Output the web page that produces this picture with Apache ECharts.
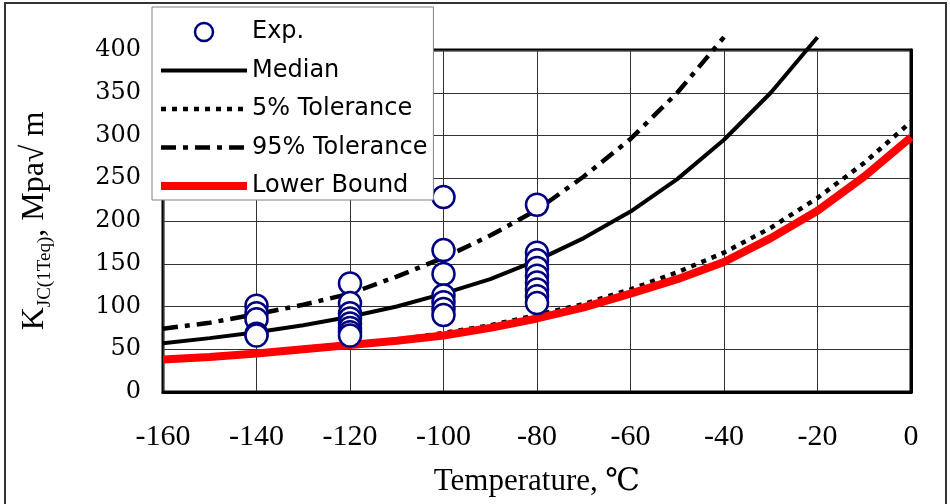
<!DOCTYPE html>
<html>
<head>
<meta charset="utf-8">
<title>KJC master curve</title>
<script src="https://cdn.jsdelivr.net/npm/echarts@6/dist/echarts.min.js"></script>
<style>
  html, body { margin: 0; padding: 0; background: #fff; }
  #chart { width: 950px; height: 504px; }
</style>
</head>
<body>
<div id="chart"></div>
<script>
// axis ticks
const xTicks = [-160, -140, -120, -100, -80, -60, -40, -20, 0];
const yTicks = [0, 50, 100, 150, 200, 250, 300, 350, 400];

// curve temperatures, every 10 degC
const curveTemps = [-160, -150, -140, -130, -120, -110, -100, -90, -80, -70, -60, -50, -40, -30, -20, -10, 0];
// (median ends at -20, 95% at -40, both run past the top)
const median = [57, 63, 70, 78, 88, 100, 115, 132, 154, 180, 211, 249, 295, 350, 415];
const tol5 = [39, 42, 46, 50, 55, 61, 69, 78, 90, 103, 120, 140, 163, 192, 227, 268, 316];
const tol95 = [74, 81, 91, 102, 115, 135, 157, 183, 213, 252, 296, 350, 415];
const lowerBound = [38, 41, 45, 50, 55, 60, 66, 75, 86, 99, 115, 132, 152, 180, 212, 252, 298];

// experimental points (drawn top to bottom so lower circles sit on top)
const expTemps = [-140, -120, -100, -80];
const expValues = [
  [101, 92, 85, 68, 66],
  [127, 104, 92, 86, 80, 75, 70, 66],
  [228, 166, 138, 113, 105, 97, 90],
  [219, 163, 154, 145, 136, 128, 120, 112, 104]
];

const serif = "'Liberation Serif', 'DejaVu Serif', 'Noto Sans CJK JP', serif";
const wideSerif = "'DejaVu Serif', 'Liberation Serif', serif";
const sans = "'DejaVu Sans', 'Liberation Sans', sans-serif";

function pairs(xs, ys) {
  return ys.map((y, i) => [xs[i], y]);
}

let expData = [];
expTemps.forEach((t, i) => {
  expValues[i].forEach(v => expData.push([t, v]));
});

const chart = echarts.init(document.getElementById("chart"), null, { renderer: "canvas" });

chart.setOption({
  animation: false,
  backgroundColor: "#fff",
  graphic: [
    {
      type: "rect",
      shape: { x: 5, y: 3, width: 941, height: 520 },
      style: { fill: null, stroke: "#333", lineWidth: 2 },
      silent: true,
      z: -1
    }
  ],
  legend: {
    orient: "vertical",
    left: 152,
    top: 7,
    padding: [13, 6, 2, 5],
    itemWidth: 86,
    itemHeight: 18,
    itemGap: 14.5,
    backgroundColor: "#fff",
    borderColor: "#808080",
    borderWidth: 1,
    borderRadius: 0,
    itemStyle: { opacity: 0 },
    lineStyle: { width: "inherit", type: "inherit" },
    textStyle: { fontFamily: sans, fontSize: 24, color: "#000" },
    data: [
      {
        name: "Exp.",
        icon: "circle",
        itemStyle: { opacity: 1, color: "#fff", borderColor: "#000080", borderWidth: 2.5 }
      },
      "Median",
      "5% Tolerance",
      "95% Tolerance",
      "Lower Bound"
    ]
  },
  grid: {
    left: 163,
    right: 39,
    top: 50,
    bottom: 112,
    show: true,
    borderColor: "#000",
    borderWidth: 3
  },
  xAxis: {
    type: "value",
    min: xTicks[0],
    max: xTicks[xTicks.length - 1],
    interval: xTicks[1] - xTicks[0],
    name: "Temperature, ℃",
    nameLocation: "middle",
    nameGap: 74,
    nameTextStyle: { fontFamily: serif, fontSize: 31, color: "#000" },
    axisLine: { lineStyle: { color: "#000", width: 3 } },
    axisTick: { show: false },
    axisLabel: { fontFamily: serif, fontSize: 30, color: "#000", margin: 30 },
    splitLine: { lineStyle: { color: "#333", width: 1 } }
  },
  yAxis: {
    type: "value",
    min: yTicks[0],
    max: yTicks[yTicks.length - 1],
    interval: yTicks[1] - yTicks[0],
    name: "{k|K}{s|JC(1Teq)}{k|, Mpa√ m}",
    nameLocation: "middle",
    nameGap: 112,
    nameRotate: 90,
    nameTextStyle: {
      color: "#000",
      rich: {
        k: { fontFamily: serif, fontSize: 32, color: "#000" },
        s: { fontFamily: serif, fontSize: 19, color: "#000", verticalAlign: "bottom", padding: [0, 0, -4, 0] }
      }
    },
    axisLine: { show: true, lineStyle: { color: "#000", width: 3 } },
    axisTick: { show: false },
    axisLabel: { fontFamily: wideSerif, fontSize: 24, color: "#000", margin: 22 },
    splitLine: { lineStyle: { color: "#333", width: 1 } }
  },
  series: [
    {
      name: "Median",
      type: "line",
      data: pairs(curveTemps, median),
      symbol: "none",
      clip: false,
      lineStyle: { color: "#000", width: 4 },
      itemStyle: { color: "#000" },
      z: 2
    },
    {
      name: "5% Tolerance",
      type: "line",
      data: pairs(curveTemps, tol5),
      symbol: "none",
      clip: false,
      lineStyle: { color: "#000", width: 4.5, type: [5, 6] },
      itemStyle: { color: "#000" },
      z: 2
    },
    {
      name: "95% Tolerance",
      type: "line",
      data: pairs(curveTemps, tol95),
      symbol: "none",
      clip: false,
      lineStyle: { color: "#000", width: 4.5, type: [15, 7, 5, 7] },
      itemStyle: { color: "#000" },
      z: 2
    },
    {
      name: "Lower Bound",
      type: "line",
      data: pairs(curveTemps, lowerBound),
      symbol: "none",
      clip: false,
      lineStyle: { color: "#ff0000", width: 8 },
      itemStyle: { color: "#ff0000" },
      z: 2
    },
    {
      name: "Exp.",
      type: "scatter",
      data: expData,
      symbol: "circle",
      symbolSize: 22,
      itemStyle: { color: "#fff", borderColor: "#000080", borderWidth: 2.5, opacity: 1 },
      z: 3
    }
  ]
});
</script>
</body>
</html>
